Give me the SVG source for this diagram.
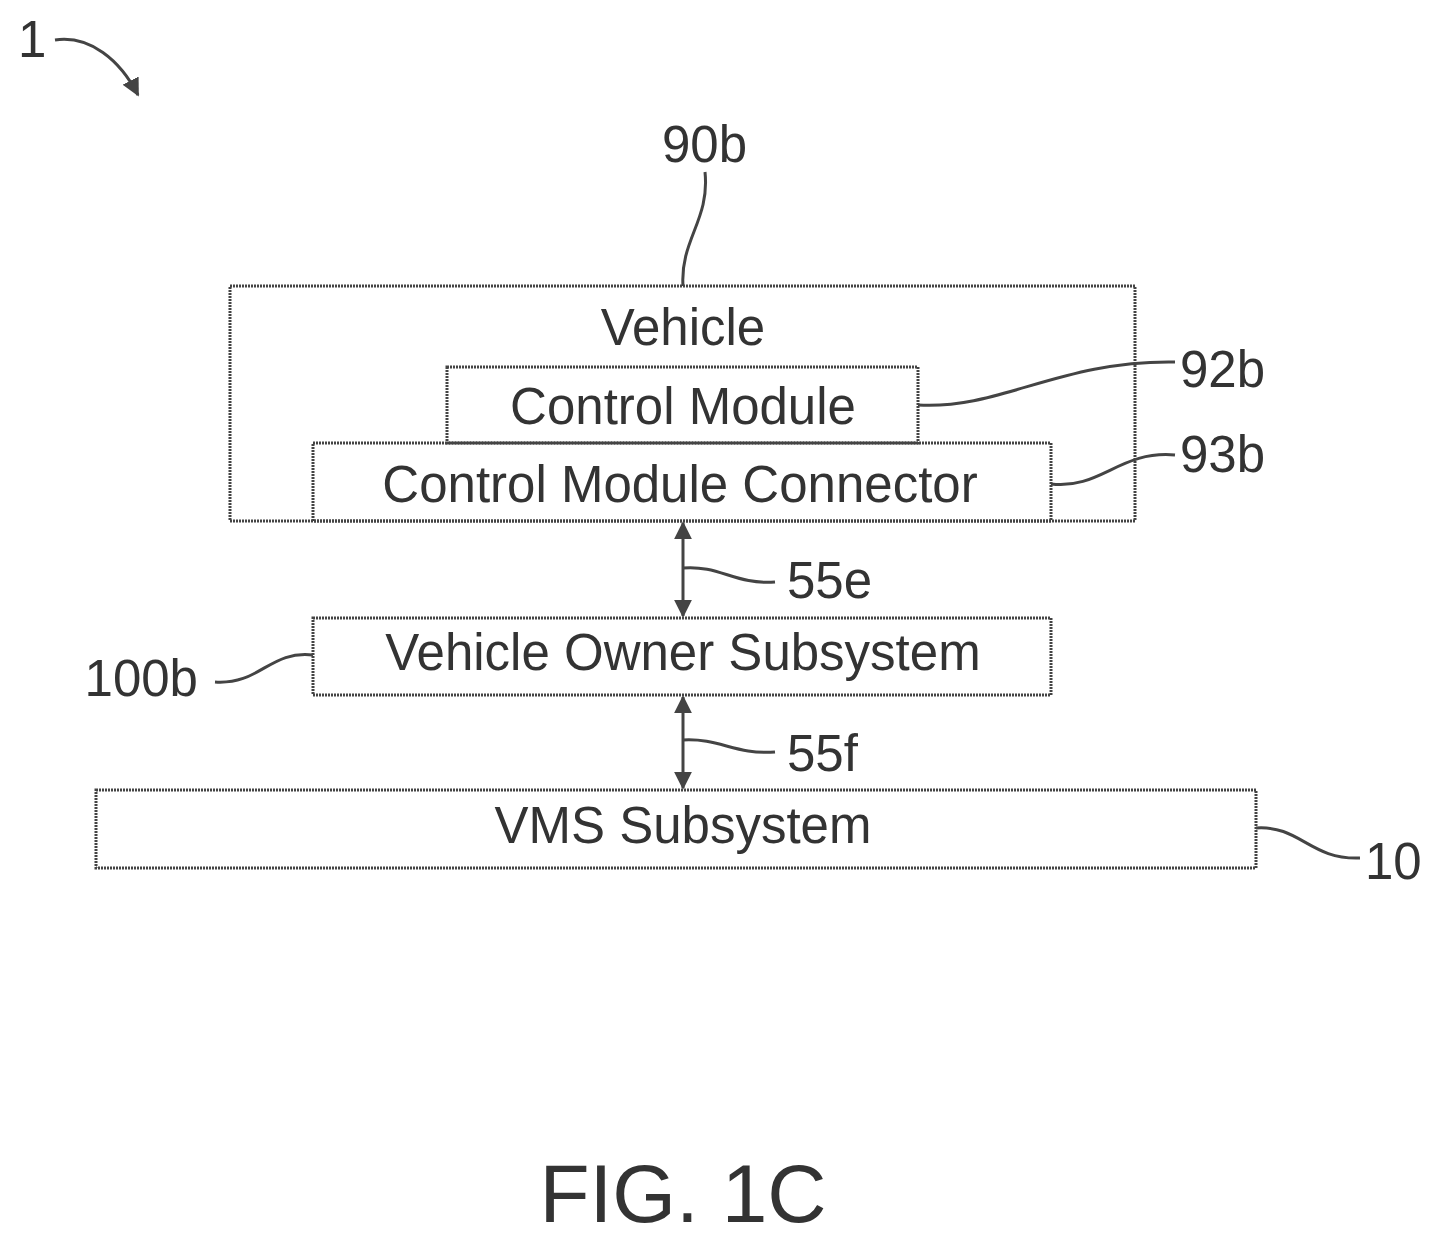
<svg xmlns="http://www.w3.org/2000/svg" width="1441" height="1241" viewBox="0 0 1441 1241">
<style>
.b{fill:none;stroke:#444;stroke-width:3;stroke-dasharray:2 1}
.l{fill:none;stroke:#444;stroke-width:3}
text{font-family:"Liberation Sans",Arial,sans-serif;fill:#333;font-size:51px}
.c{text-anchor:middle}
</style>
<defs>
<marker id="a" viewBox="0 0 10 10" refX="9" refY="5" markerWidth="6" markerHeight="6" orient="auto-start-reverse"><path d="M0,0L10,5L0,10z" fill="#444"/></marker>
</defs>
<rect width="1441" height="1241" fill="#fff"/>
<g id="vehicle"><rect class="b" x="230" y="286" width="905" height="235"/><text class="c" x="683" y="345">Vehicle</text></g>
<g id="cm"><rect class="b" x="447" y="367" width="471" height="76"/><text class="c" x="683" y="424">Control Module</text></g>
<g id="cmc"><rect class="b" x="313" y="443" width="738" height="78" fill="#fff"/><text class="c" x="680" y="502">Control Module Connector</text></g>
<g id="vos"><rect class="b" x="313" y="618" width="738" height="77"/><text class="c" x="683" y="670">Vehicle Owner Subsystem</text></g>
<g id="vms"><rect class="b" x="96" y="790" width="1160" height="78"/><text class="c" x="683" y="843">VMS Subsystem</text></g>
<g id="connectors">
<line class="l" x1="683" y1="523" x2="683" y2="616" marker-start="url(#a)" marker-end="url(#a)"/>
<line class="l" x1="683" y1="697" x2="683" y2="788" marker-start="url(#a)" marker-end="url(#a)"/>
<path class="l" d="M683,568C720,565 735,585 775,582"/>
<path class="l" d="M683,740C720,738 735,755 775,752"/>
<path class="l" d="M918,405C1000,410 1060,360 1175,362"/>
<path class="l" d="M1051,484C1100,490 1120,450 1175,455"/>
<path class="l" d="M313,655C270,650 260,685 215,682"/>
<path class="l" d="M1256,828C1300,825 1310,860 1360,858"/>
<path class="l" d="M683,286C680,240 710,220 705,172"/>
<path class="l" d="M55,40C90,35 120,60 138,95" marker-end="url(#a)"/>
</g>
<g id="labels">
<text x="662" y="162">90b</text>
<text x="1180" y="387">92b</text>
<text x="1180" y="472">93b</text>
<text x="787" y="598">55e</text>
<text x="787" y="771">55f</text>
<text x="198" y="696" text-anchor="end">100b</text>
<text x="1365" y="879">10</text>
<text x="18" y="57">1</text>
<text class="c" x="683" y="1222" style="font-size:82px">FIG. 1C</text>
</g>
</svg>
